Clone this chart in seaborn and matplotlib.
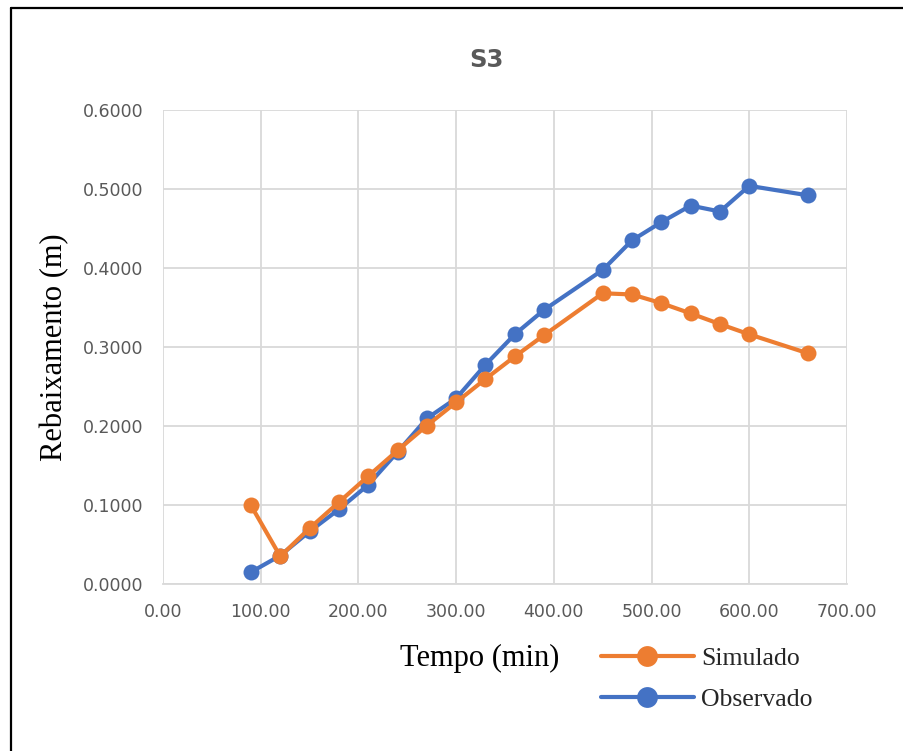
import matplotlib
matplotlib.use("Agg")
import matplotlib.pyplot as plt
import matplotlib.lines as mlines
import seaborn as sns
import pandas as pd

# Drawdown at well S3: simulated vs observed
tempo = [90, 120, 150, 180, 210, 240, 270, 300, 330, 360, 390,
         450, 480, 510, 540, 570, 600, 660]
simulado = [0.0995, 0.0350, 0.0705, 0.1035, 0.1365, 0.1690, 0.2005, 0.2300,
            0.2595, 0.2880, 0.3150, 0.3680, 0.3665, 0.3555, 0.3425, 0.3290,
            0.3160, 0.2920]
observado = [0.0150, 0.0360, 0.0665, 0.0945, 0.1255, 0.1670, 0.2095, 0.2350,
             0.2775, 0.3160, 0.3470, 0.3975, 0.4350, 0.4580, 0.4790, 0.4715,
             0.5040, 0.4920]
x_ticks = [0, 100, 200, 300, 400, 500, 600, 700]
y_ticks = [0.0, 0.1, 0.2, 0.3, 0.4, 0.5, 0.6]

sns.set_theme(style="white")
plt.rcParams["font.family"] = ["DejaVu Sans"]

orange = "#ED7D31"
blue = "#4472C4"
tick_color = "#595959"
grid_color = "#D9D9D9"

df = pd.DataFrame({"Tempo": tempo, "Simulado": simulado, "Observado": observado})

fig = plt.figure(figsize=(9.04, 7.51), dpi=100)
ax = fig.add_axes([163 / 904, 1 - 584 / 751, 684 / 904, 474 / 751])

sns.lineplot(data=df, x="Tempo", y="Observado", ax=ax, color=blue,
             linewidth=3.0, marker="o", markersize=11.5, markeredgewidth=0)
sns.lineplot(data=df, x="Tempo", y="Simulado", ax=ax, color=orange,
             linewidth=3.0, marker="o", markersize=11.5, markeredgewidth=0)

ax.set_xlim(0, 700)
ax.set_ylim(0, 0.6)
ax.set_xticks(x_ticks)
ax.set_yticks(y_ticks)
ax.set_xticklabels([f"{v:.2f}" for v in x_ticks])
ax.set_yticklabels([f"{v:.4f}" for v in y_ticks])
ax.tick_params(axis="both", length=0, labelsize=12.5, colors=tick_color)
ax.tick_params(axis="y", pad=14)
ax.tick_params(axis="x", pad=14)
ax.grid(True, color=grid_color, linewidth=1.3)
ax.set_axisbelow(True)
for side in ["top", "right", "left"]:
    ax.spines[side].set_visible(False)
ax.spines["bottom"].set_color(grid_color)
ax.spines["bottom"].set_linewidth(1.3)

ax.set_xlabel("")
ax.set_ylabel("Rebaixamento (m)", family="Liberation Serif", fontsize=22,
              color="black", labelpad=10)

fig.text(486 / 904, 1 - 60 / 751, "S3", ha="center", va="center",
         fontsize=17.5, fontweight="bold", color=tick_color)
fig.text(480 / 904, 1 - 658 / 751, "Tempo (min)", ha="center", va="center",
         family="Liberation Serif", fontsize=22, color="black")

handles = [
    mlines.Line2D([], [], color=orange, linewidth=3.0, marker="o",
                  markersize=15, markeredgewidth=0, label="Simulado"),
    mlines.Line2D([], [], color=blue, linewidth=3.0, marker="o",
                  markersize=15, markeredgewidth=0, label="Observado"),
]
fig.legend(handles=handles, loc="center left",
           bbox_to_anchor=(578 / 904, 1 - 679 / 751), frameon=False,
           prop={"family": "Liberation Serif", "size": 18.5},
           handlelength=3.6, handletextpad=0.3, labelspacing=0.7)

# Outer frame lines (left and top edges)
fig.add_artist(mlines.Line2D([10.5 / 904, 10.5 / 904], [0, 1 - 8 / 751],
                             transform=fig.transFigure, color="black", linewidth=1.6))
fig.add_artist(mlines.Line2D([10.5 / 904, 1], [1 - 8 / 751, 1 - 8 / 751],
                             transform=fig.transFigure, color="black", linewidth=1.6))

fig.savefig("out.png", dpi=100)
